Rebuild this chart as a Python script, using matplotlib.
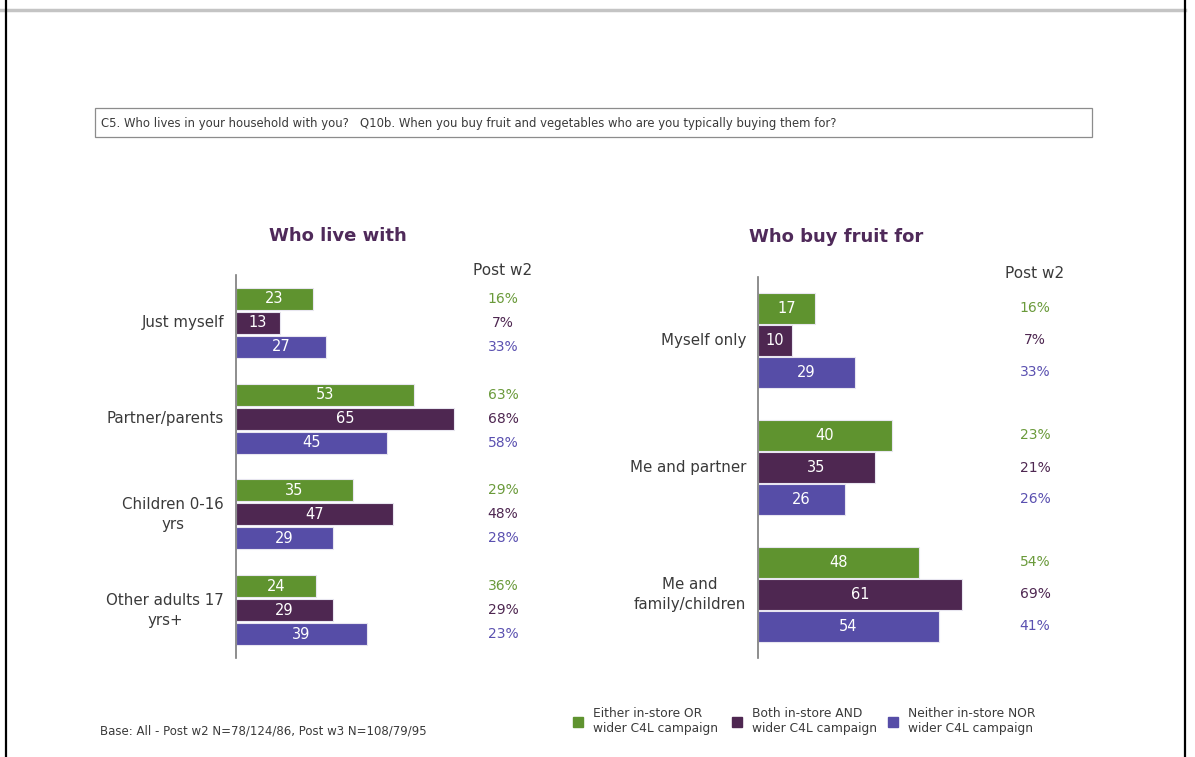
import matplotlib.pyplot as plt
from matplotlib.patches import Rectangle
from matplotlib.lines import Line2D
import numpy as np

# series colours
GREEN = '#5f932f'
PLUM = '#4e2751'
BLUE = '#564da7'
PCT_COLORS = ['#6a9a3a', '#4e2751', '#5a50b0']
TITLE_COLOR = '#4f2a5a'
TEXT_COLOR = '#3a3a3a'

series_names = ['Either in-store OR\nwider C4L campaign',
                'Both in-store AND\nwider C4L campaign',
                'Neither in-store NOR\nwider C4L campaign']

# who live with
live_cats = ['Just myself', 'Partner/parents', 'Children 0-16\nyrs', 'Other adults 17\nyrs+']
live_either = [23, 53, 35, 24]
live_both = [13, 65, 47, 29]
live_neither = [27, 45, 29, 39]
live_pct_either = [16, 63, 29, 36]
live_pct_both = [7, 68, 48, 29]
live_pct_neither = [33, 58, 28, 23]

# who buy fruit for
buy_cats = ['Myself only', 'Me and partner', 'Me and\nfamily/children']
buy_either = [17, 40, 48]
buy_both = [10, 35, 61]
buy_neither = [29, 26, 54]
buy_pct_either = [16, 23, 54]
buy_pct_both = [7, 21, 69]
buy_pct_neither = [33, 26, 41]

W, H = 1195, 757
fig = plt.figure(figsize=(W / 100, H / 100), dpi=100)
plt.rcParams['font.family'] = ['DejaVu Sans']


def px_axes(x0, y0, x1, y1):
    # axes placed by pixel box (top-left origin)
    return fig.add_axes([x0 / W, 1 - y1 / H, (x1 - x0) / W, (y1 - y0) / H])


PX_PER_UNIT = 3.35


def draw_panel(x0, y0, y1, cats, vals, pcts, offsets, bar_h, pct_x, title, title_y, head_y):
    width_px = 330
    ax = px_axes(x0, y0, x0 + width_px, y1)
    n = len(cats)
    ax.set_xlim(0, width_px / PX_PER_UNIT)
    ax.set_ylim(n - 0.5, -0.5)
    ypos = np.arange(n)
    colors = [GREEN, PLUM, BLUE]
    for k in range(3):
        y = ypos + offsets[k]
        bars = ax.barh(y, vals[k], height=bar_h, color=colors[k],
                       edgecolor='#e8e6f0', linewidth=0.8)
        for b, v in zip(bars, vals[k]):
            ax.text(v / 2, b.get_y() + b.get_height() / 2, str(v), color='white',
                    ha='center', va='center', fontsize=10.5)
        for yy, p in zip(y, pcts[k]):
            ax.text(pct_x, yy, f'{p}%', color=PCT_COLORS[k], ha='center',
                    va='center', fontsize=10, clip_on=False)
    for yy, c in zip(ypos, cats):
        ax.text(-12 / PX_PER_UNIT, yy, c, ha='right', va='center', multialignment='center',
                fontsize=10.8, color=TEXT_COLOR, linespacing=1.4)
    for s in ['top', 'right', 'bottom']:
        ax.spines[s].set_visible(False)
    ax.spines['left'].set_color('#7a7a7a')
    ax.spines['left'].set_linewidth(1.2)
    ax.set_xticks([])
    ax.set_yticks([])
    ax.patch.set_alpha(0)
    fig.text((x0 + pct_x * PX_PER_UNIT) / W, 1 - head_y / H, 'Post w2', ha='center',
             va='center', fontsize=11, color=TEXT_COLOR)
    fig.text(title[1] / W, 1 - title_y / H, title[0], ha='center', va='center',
             fontsize=13, fontweight='bold', color=TITLE_COLOR)
    return ax


draw_panel(236, 275, 658, live_cats,
           [live_either, live_both, live_neither],
           [live_pct_either, live_pct_both, live_pct_neither],
           [-0.25, 0.0, 0.25], 0.23, (503 - 236) / PX_PER_UNIT,
           ('Who live with', 338), 236, 270)

draw_panel(758, 277, 658, buy_cats,
           [buy_either, buy_both, buy_neither],
           [buy_pct_either, buy_pct_both, buy_pct_neither],
           [-0.255, 0.0, 0.25], 0.245, (1035 - 758) / PX_PER_UNIT,
           ('Who buy fruit for', 836), 237, 273)

# page frame
fig.add_artist(Line2D([0, 1185 / W], [1 - 9.5 / H] * 2, color='#c4c4c4', lw=2.5,
                      transform=fig.transFigure))
fig.add_artist(Line2D([6 / W] * 2, [0, 1], color='black', lw=1.6, transform=fig.transFigure))
fig.add_artist(Line2D([1185 / W] * 2, [0, 1], color='black', lw=1.6, transform=fig.transFigure))

# question box
fig.add_artist(Rectangle((95 / W, 1 - 137 / H), (1092 - 95) / W, 29 / H, fill=False,
                         edgecolor='#8c8c8c', lw=0.9, transform=fig.transFigure))
fig.text(101 / W, 1 - 123 / H,
         'C5. Who lives in your household with you?   Q10b. When you buy fruit and vegetables who are you typically buying them for?',
         ha='left', va='center', fontsize=8.4, color=TEXT_COLOR)

fig.text(100 / W, 1 - 731 / H, 'Base: All - Post w2 N=78/124/86, Post w3 N=108/79/95',
         ha='left', va='center', fontsize=8.5, color=TEXT_COLOR)

# legend
for (sx, tx), col, name in zip([(578, 593), (737, 752), (893, 908)],
                               [GREEN, PLUM, BLUE], series_names):
    fig.add_artist(Rectangle(((sx - 5) / W, 1 - 727 / H), 10 / W, 10 / H, color=col,
                             transform=fig.transFigure))
    fig.text(tx / W, 1 - 721 / H, name, ha='left', va='center', fontsize=8.8,
             color=TEXT_COLOR, linespacing=1.15)

fig.savefig('out.png', dpi=100)
